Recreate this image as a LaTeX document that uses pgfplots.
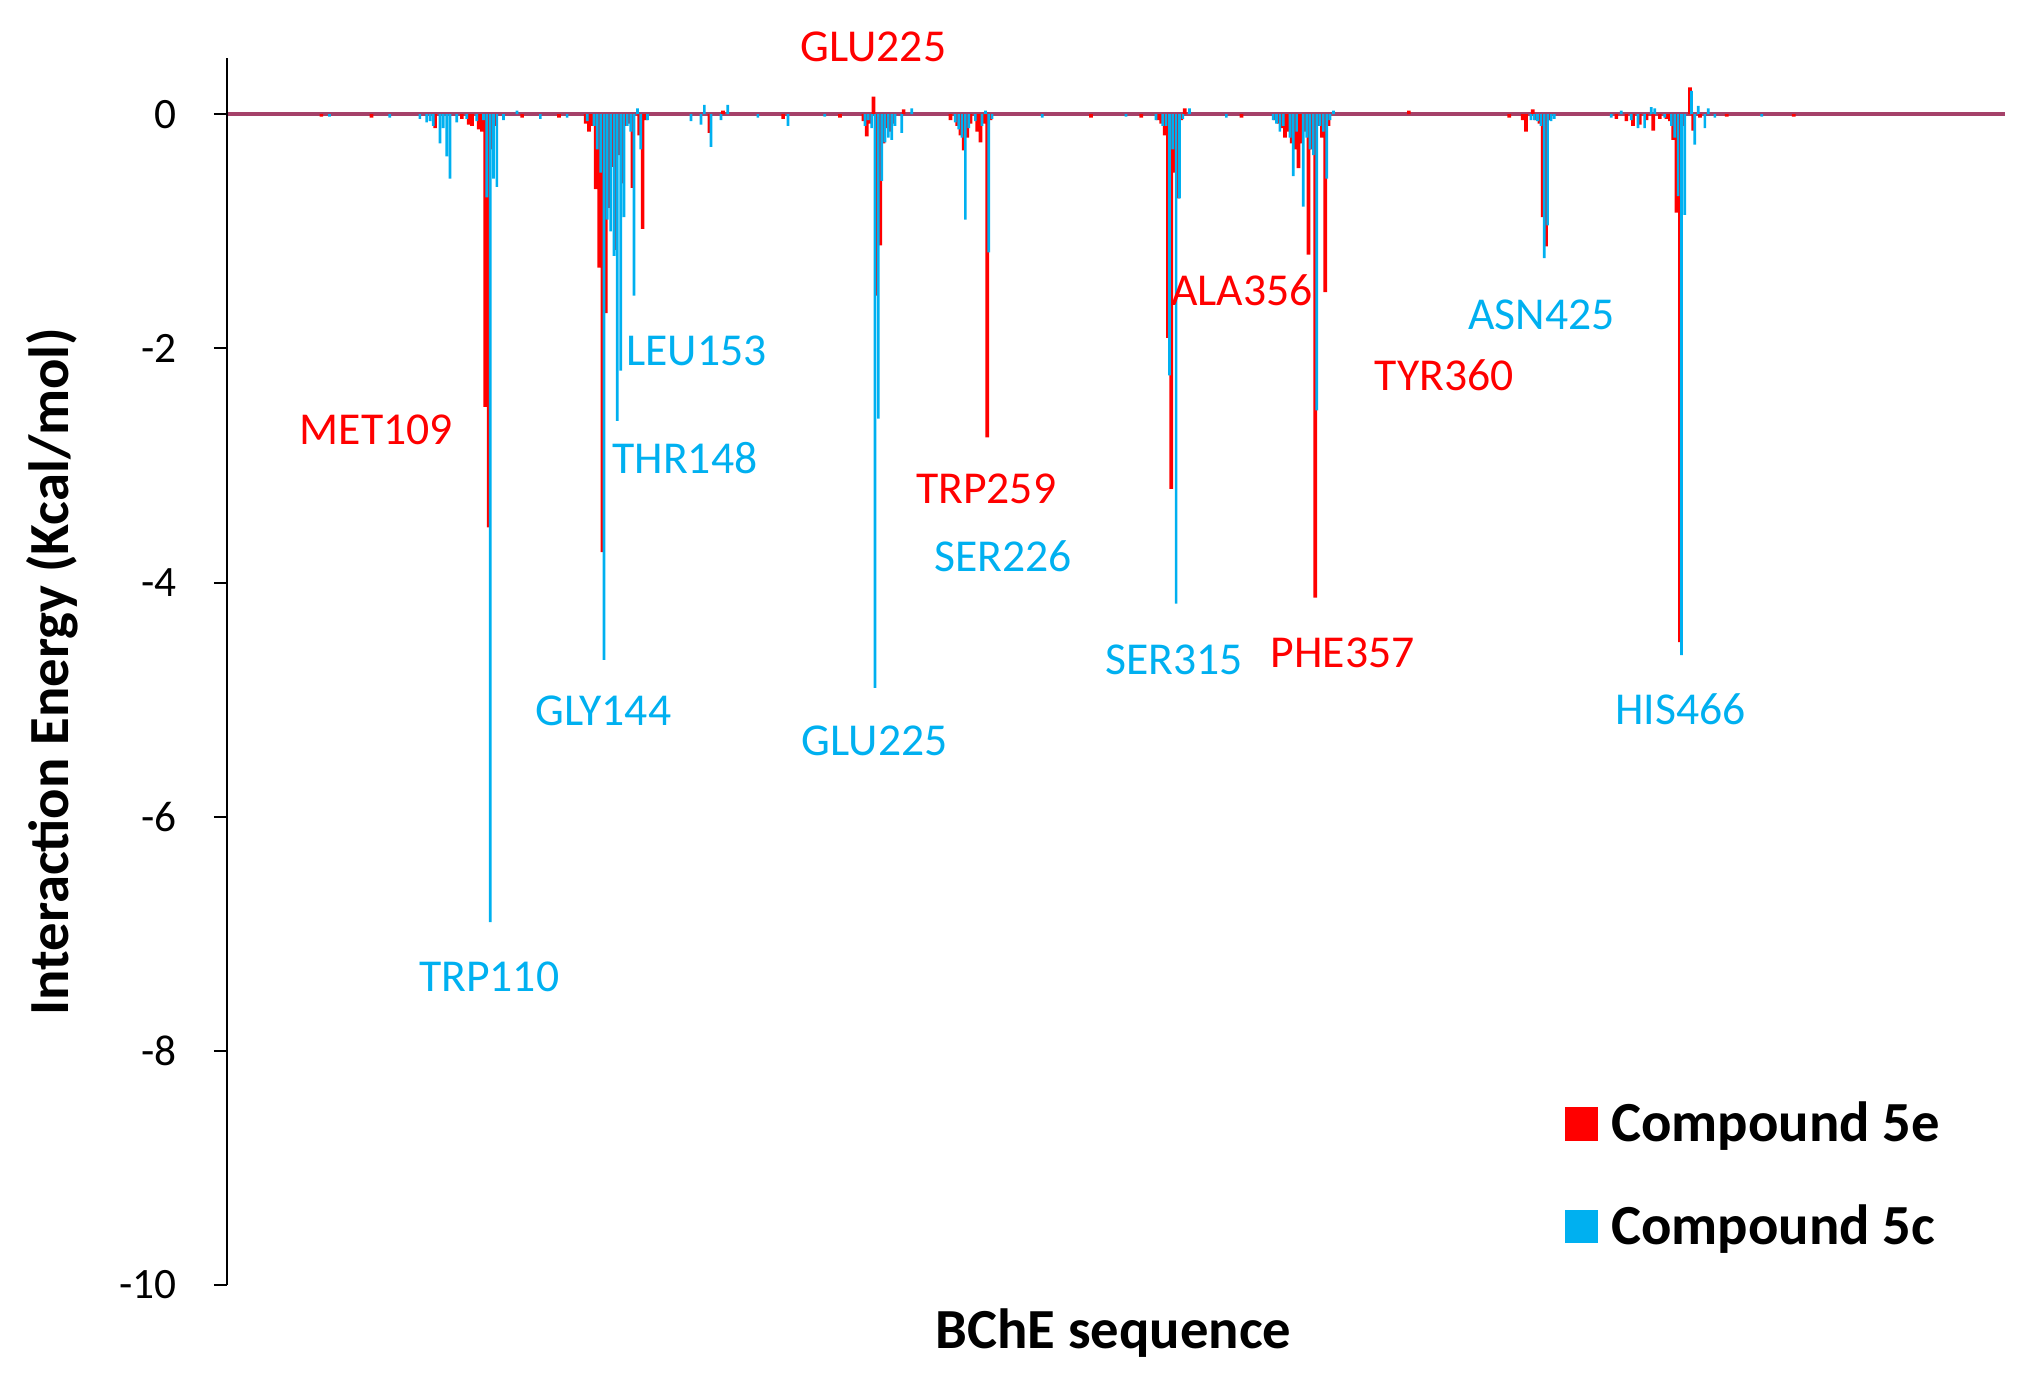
\documentclass[border=0pt]{standalone}
\usepackage{fontspec}
\setmainfont{Carlito}
\usepackage{pgfplots}
\usepackage{pgfplotstable}
\pgfplotsset{compat=1.18}
\definecolor{cred}{RGB}{255,0,0}
\definecolor{cblue}{RGB}{0,176,240}
\definecolor{cbase}{RGB}{165,65,105}

\pgfplotstableread{
res val
60 -0.02
75 -0.03
94 -0.12
102 -0.04
104 -0.09
105 -0.10
107 -0.13
108 -0.15
109 -2.50
110 -3.53
111 -0.30
112 -0.10
120 -0.03
131 -0.03
139 -0.08
140 -0.15
141 -0.10
142 -0.64
143 -1.31
144 -3.74
145 -1.70
146 -0.80
147 -0.45
148 -1.16
149 -0.35
150 -0.59
151 -0.10
152 -0.08
153 -0.63
155 -0.18
156 -0.98
157 -0.05
176 -0.16
180 0.03
198 -0.04
215 -0.03
222 -0.06
223 -0.19
224 -0.08
225 0.15
226 -1.55
227 -1.12
228 -0.25
229 -0.12
230 -0.15
231 -0.08
234 0.04
248 -0.05
250 -0.10
251 -0.18
252 -0.31
253 -0.20
254 -0.08
256 -0.15
257 -0.24
258 -0.08
259 -2.76
260 -0.05
290 -0.03
305 -0.03
310 -0.05
311 -0.08
312 -0.18
313 -1.91
314 -3.20
315 -0.50
316 -0.72
317 -0.05
318 0.05
335 -0.03
345 -0.05
346 -0.08
347 -0.12
348 -0.20
349 -0.15
350 -0.25
351 -0.30
352 -0.46
353 -0.25
354 -0.15
355 -1.20
356 -0.30
357 -4.13
358 -0.10
359 -0.20
360 -1.52
361 -0.10
385 0.03
415 -0.03
419 -0.05
420 -0.15
422 0.04
423 -0.05
424 -0.08
425 -0.88
426 -1.13
427 -0.05
447 -0.04
450 -0.06
452 -0.10
454 -0.09
456 -0.05
458 -0.14
460 -0.04
462 -0.04
463 -0.06
464 -0.22
465 -0.84
466 -4.51
467 -0.10
469 0.23
470 -0.14
472 -0.03
480 -0.02
500 -0.02
}\redtab

\pgfplotstableread{
res val
62 -0.02
80 -0.03
89 -0.04
91 -0.07
92 -0.06
93 -0.10
95 -0.25
96 -0.12
97 -0.36
98 -0.55
100 -0.07
103 -0.04
106 -0.06
108 -0.05
109 -0.71
110 -6.90
111 -0.55
112 -0.62
114 -0.05
118 0.03
125 -0.04
133 -0.03
139 -0.06
141 -0.10
142 -0.30
143 -0.50
144 -4.66
145 -0.90
146 -1.00
147 -1.21
148 -2.62
149 -2.19
150 -0.88
151 -0.10
152 -0.15
153 -1.55
154 0.05
155 -0.30
157 -0.05
170 -0.06
173 -0.09
174 0.08
176 -0.28
179 -0.05
181 0.08
190 -0.03
199 -0.10
210 -0.02
222 -0.10
223 -0.05
224 -0.12
225 -4.90
226 -2.60
227 -0.57
228 -0.24
229 -0.20
230 -0.22
231 -0.10
233 -0.16
236 0.05
249 -0.07
250 -0.13
251 -0.20
252 -0.90
253 -0.12
255 -0.06
257 -0.10
258 0.03
259 -1.18
260 -0.04
275 -0.03
300 -0.02
309 -0.05
311 -0.10
312 -0.10
313 -2.23
314 -0.30
315 -4.18
316 -0.72
317 -0.04
319 0.05
330 -0.03
344 -0.05
345 -0.08
346 -0.15
347 -0.10
349 -0.20
350 -0.53
351 -0.15
353 -0.79
354 -0.20
355 -0.30
356 -0.35
357 -2.53
358 -0.10
359 -0.15
360 -0.55
361 -0.05
362 0.03
421 -0.05
422 -0.05
423 -0.06
424 -0.10
425 -1.23
426 -0.95
427 -0.06
428 -0.04
445 -0.03
448 0.03
451 -0.05
453 -0.12
455 -0.12
457 0.06
458 0.05
461 -0.03
463 -0.10
464 -0.20
465 -0.70
466 -4.62
467 -0.86
469 0.20
470 -0.26
471 0.07
473 -0.12
474 0.05
476 -0.03
490 -0.02
}\bluetab

\begin{document}
\begin{tikzpicture}
\path[use as bounding box] (0,0) rectangle (610.5pt,411.9pt);
\begin{axis}[
  at={(68.1pt,26.4pt)}, anchor=south west,
  scale only axis, width=533.4pt, height=368.1pt,
  xmin=31.65, xmax=563, ymin=-10, ymax=0.48,
  axis y line=left, axis x line=middle,
  axis line style={-},
  y axis line style={black, line width=0.6pt},
  x axis line style={cbase, line width=1.2pt},
  hide obscured y ticks=false,
  xtick=\empty,
  ytick={-10,-8,-6,-4,-2,0},
  yticklabels={-10,-8,-6,-4,-2,0},
  tick align=outside,
  major tick length=3.9pt,
  tick style={black, line width=0.6pt},
  yticklabel style={font=\fontsize{13}{15}\selectfont, inner sep=0pt, xshift=-11.1pt},
  clip=false,
  ylabel={Interaction Energy (Kcal/mol)},
  xlabel={BChE sequence},
  every axis y label/.style={at={(rel axis cs:0,0.5)}, xshift=-52.5pt, rotate=90, anchor=center, font=\fontsize{17}{20}\selectfont\bfseries},
  every axis x label/.style={at={(rel axis cs:0.4985,0)}, yshift=-14.3pt, anchor=center, font=\fontsize{17}{20}\selectfont\bfseries},
  legend style={at={(rel axis cs:0.752,0.15)}, anchor=north west, draw=none, fill=none, inner sep=0pt,
    font=\fontsize{17}{20}\selectfont\bfseries, row sep=17.4pt,
    nodes={inner sep=0pt},
    /tikz/every odd column/.append style={column sep=4pt}},
  legend cell align=left,
]
\addplot[ybar, bar width=1.1, bar shift=-0.15, fill=cred, draw=none,
  legend image code/.code={\fill[cred] (0pt,-5pt) rectangle (10pt,5pt);}]
  table[x=res,y=val] {\redtab};
\addlegendentry{Compound 5e}
\addplot[ybar, bar width=0.8, bar shift=0.3, fill=cblue, draw=none,
  legend image code/.code={\fill[cblue] (0pt,-5pt) rectangle (10pt,5pt);}]
  table[x=res,y=val] {\bluetab};
\addlegendentry{Compound 5c}

\begin{scope}[font=\fontsize{13.7}{16}\selectfont]
\node[text=cred] at (axis cs:76.3,-2.70) {MET109};
\node[text=cblue] at (axis cs:110.0,-7.37) {TRP110};
\node[text=cblue] at (axis cs:144.1,-5.10) {GLY144};
\node[text=cblue] at (axis cs:168.5,-2.94) {THR148};
\node[text=cblue] at (axis cs:172.0,-2.02) {LEU153};
\node[text=cred] at (axis cs:224.8,0.575) {GLU225};
\node[text=cblue] at (axis cs:225.2,-5.35) {GLU225};
\node[text=cred] at (axis cs:258.5,-3.20) {TRP259};
\node[text=cblue] at (axis cs:263.6,-3.78) {SER226};
\node[text=cblue] at (axis cs:314.7,-4.66) {SER315};
\node[text=cred] at (axis cs:334.9,-1.50) {ALA356};
\node[text=cred] at (axis cs:365.1,-4.60) {PHE357};
\node[text=cred] at (axis cs:395.4,-2.23) {TYR360};
\node[text=cblue] at (axis cs:424.5,-1.71) {ASN425};
\node[text=cblue] at (axis cs:466.0,-5.08) {HIS466};
\end{scope}
\end{axis}
\end{tikzpicture}
\end{document}
